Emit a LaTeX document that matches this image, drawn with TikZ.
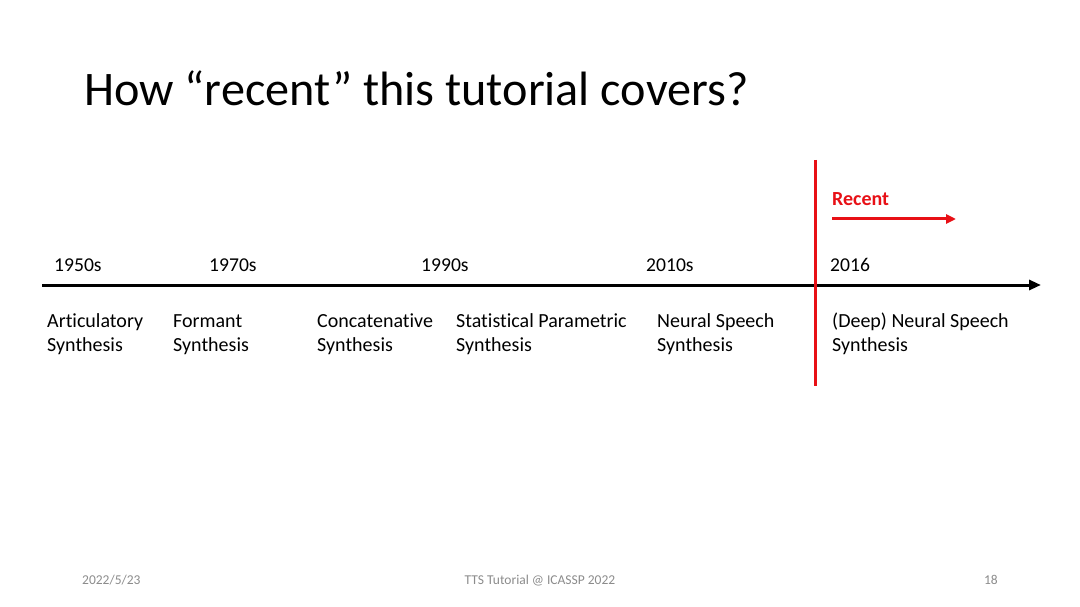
\documentclass[tikz,border=0pt]{standalone}
\usepackage{fontspec}
\setmainfont[Ligatures={NoCommon}]{Carlito}
\usetikzlibrary{arrows.meta}
\definecolor{recentred}{RGB}{232,16,22}
\definecolor{footgray}{RGB}{140,140,140}
\tikzset{
  yearlbl/.style={anchor=base west,inner sep=0pt,font=\fontsize{19.6}{22}\selectfont},
  eralbl/.style={anchor=base west,inner sep=0pt,align=left,font=\fontsize{20}{24}\selectfont},
  footlbl/.style={inner sep=0pt,text=footgray,font=\fontsize{13.5}{15}\selectfont},
}
\begin{document}
\begin{tikzpicture}[x=1pt,y=-1pt]
\useasboundingbox[fill=white] (0,0) rectangle (1080,607);
\node[anchor=base west,inner sep=0pt,font=\fontsize{48.2}{54}\selectfont] (title) at (84,106) {How “recent” this tutorial covers?};
% timeline
\coordinate (tl0) at (42,285);
\coordinate (tl1) at (1041,285);
\draw[line width=3pt,-{Triangle[length=12pt,width=10pt]}] (tl0) -- (tl1);
% red line
\coordinate (r0) at (815,160);
\coordinate (r1) at (815,386);
\draw[recentred,line width=3pt] (r0) -- (r1);
\node[anchor=base west,inner sep=0pt,text=recentred,font=\fontsize{20}{24}\selectfont\bfseries] (recent) at (832,206) {Recent};
\coordinate (a0) at (832,219);
\coordinate (a1) at (956,219);
\draw[recentred,line width=3pt,-{Triangle[length=10pt,width=9pt]}] (a0) -- (a1);
% years
\node[yearlbl] (y1) at (54,272) {1950s};
\node[yearlbl] (y2) at (209,272) {1970s};
\node[yearlbl] (y3) at (421,272) {1990s};
\node[yearlbl] (y4) at (646,272) {2010s};
\node[yearlbl] (y5) at (830,272) {2016};
% eras (anchor at baseline of second line)
\node[eralbl] (e1) at (47,351) {Articulatory\\Synthesis};
\node[eralbl] (e2) at (173,351) {Formant\\Synthesis};
\node[eralbl] (e3) at (317,351) {Concatenative\\Synthesis};
\node[eralbl] (e4) at (456,351) {Statistical Parametric\\Synthesis};
\node[eralbl] (e5) at (657,351) {Neural Speech\\Synthesis};
\node[eralbl] (e6) at (832,351) {(Deep) Neural Speech\\Synthesis};
% footer
\node[footlbl,anchor=base west] (f1) at (82,584) {2022/5/23};
\node[footlbl,anchor=base] (f2) at (540,584) {TTS Tutorial @ ICASSP 2022};
\node[footlbl,anchor=base east] (f3) at (998,584) {18};
\end{tikzpicture}
\end{document}
